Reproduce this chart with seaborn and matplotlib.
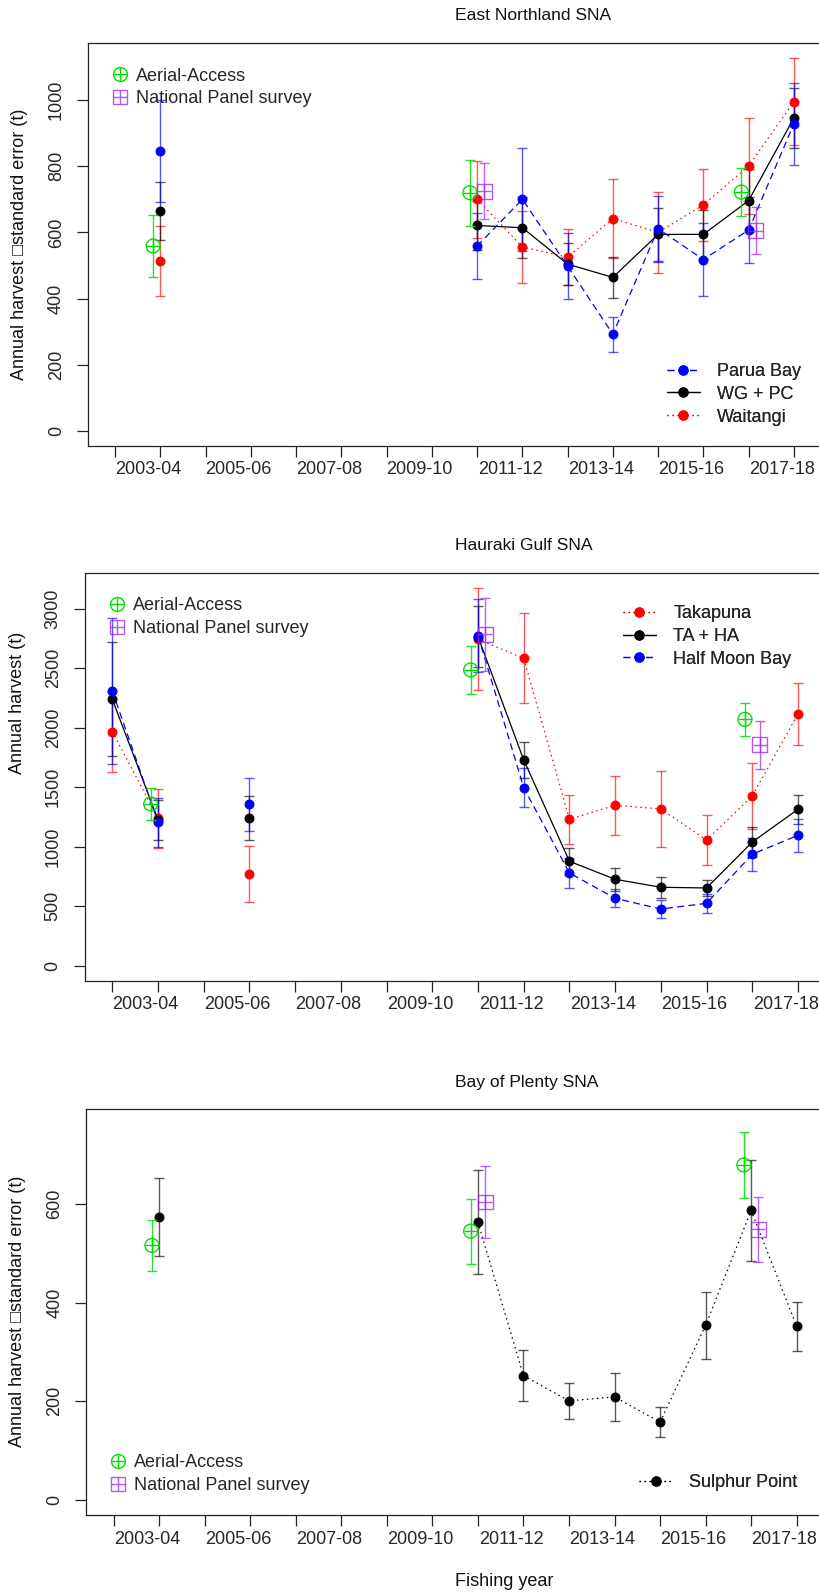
import numpy as np
import pandas as pd
import matplotlib
matplotlib.use("Agg")
import matplotlib.pyplot as plt
import seaborn as sns
from matplotlib.lines import Line2D

# ---------------- data ----------------
years = list(range(2002, 2018))
label_years = [2003, 2005, 2007, 2009, 2011, 2013, 2015, 2017]
year_labels = ["2003-04", "2005-06", "2007-08", "2009-10",
               "2011-12", "2013-14", "2015-16", "2017-18"]
nan = np.nan

# East Northland SNA (index: 2002..2017)
en_parua    = [nan, 846, nan, nan, nan, nan, nan, nan, 559, 700, 498, 292, 611, 518, 607, 928]
en_parua_se = [nan, 153, nan, nan, nan, nan, nan, nan, 100, 155, 100,  53, 100, 110, 101, 124]
en_wgpc     = [nan, 664, nan, nan, nan, nan, nan, nan, 621, 614, 504, 464, 594, 594, 696, 946]
en_wgpc_se  = [nan,  88, nan, nan, nan, nan, nan, nan,  75,  92,  63,  63,  81,  75,  96,  90]
en_wait     = [nan, 514, nan, nan, nan, nan, nan, nan, 700, 556, 525, 642, 600, 683, 801, 995]
en_wait_se  = [nan, 105, nan, nan, nan, nan, nan, nan, 117, 110,  84, 119, 122, 108, 145, 132]
en_aa_years = [2003, 2010, 2016]
en_aa       = [559, 720, 722]
en_aa_se    = [93, 100, 73]
en_nps_years = [2010, 2016]
en_nps       = [725, 605]
en_nps_se    = [86, 71]

# Hauraki Gulf SNA
hg_taka     = [1966, 1238, nan, 768, nan, nan, nan, nan, 2743, 2583, 1230, 1348, 1317, 1056, 1426, 2115]
hg_taka_se  = [340, 250, nan, 234, nan, nan, nan, nan, 430, 380, 206, 250, 322, 208, 280, 263]
hg_taha     = [2239, 1224, nan, 1238, nan, nan, nan, nan, 2765, 1729, 877, 726, 659, 653, 1039, 1314]
hg_taha_se  = [480, 172, nan, 185, nan, nan, nan, nan, 255, 152, 115, 98, 89, 67, 129, 120]
hg_hmb      = [2308, 1205, nan, 1356, nan, nan, nan, nan, 2773, 1496, 779, 566, 476, 524, 936, 1096]
hg_hmb_se   = [613, 205, nan, 224, nan, nan, nan, nan, 305, 165, 129, 77, 78, 78, 140, 138]
hg_aa_years = [2003, 2010, 2016]
hg_aa       = [1359, 2485, 2070]
hg_aa_se    = [136, 200, 140]
hg_nps_years = [2010, 2016]
hg_nps       = [2785, 1855]
hg_nps_se    = [305, 205]

# Bay of Plenty SNA
bp_sulphur    = [nan, 573, nan, nan, nan, nan, nan, nan, 563, 252, 201, 209, 158, 354, 587, 352]
bp_sulphur_se = [nan,  79, nan, nan, nan, nan, nan, nan, 105,  52,  37,  48,  30,  68, 103,  49]
bp_aa_years = [2003, 2010, 2016]
bp_aa       = [516, 545, 679]
bp_aa_se    = [51, 66, 67]
bp_nps_years = [2010, 2016]
bp_nps       = [604, 549]
bp_nps_se    = [73, 66]

# ---------------- style ----------------
sns.set_style("ticks")
plt.rcParams["font.family"] = ["Liberation Sans", "DejaVu Sans"]
plt.rcParams["font.size"] = 13
plt.rcParams["axes.linewidth"] = 0.9

W, H = 820, 1593
fig = plt.figure(figsize=(W / 100, H / 100), dpi=100)

RED, BLACK, BLUE = "#FF0000", "#000000", "#0000FF"
GREEN, PURPLE = "#00DD00", "#A020F0"
DASHED = (0, (5.5, 3.5))
DOTTED = (0, (1.2, 2.8))
OFF = 0.16
EB_ALPHA = 0.65
CAP = 3.7


def px_axes(left, right, top, bottom):
    return fig.add_axes([left / W, 1 - bottom / H, (right - left) / W, (bottom - top) / H])


def segments(vals):
    seg, cur, prev = [], 0, False
    for v in vals:
        ok = not np.isnan(v)
        if ok and not prev:
            cur += 1
        seg.append(cur if ok else -1)
        prev = ok
    return seg


def draw_series(ax, vals, se, color, ls):
    df = pd.DataFrame({"year": years, "value": vals, "se": se, "seg": segments(vals)})
    df = df[df["seg"] >= 0]
    ax.errorbar(df["year"], df["value"], yerr=df["se"], fmt="none", ecolor=color,
                elinewidth=1.0, capsize=CAP, capthick=1.0, alpha=EB_ALPHA, zorder=2)
    sns.lineplot(data=df, x="year", y="value", units="seg", estimator=None,
                 color=color, linestyle=ls, lw=0.9, marker="o", markersize=6.4,
                 markeredgecolor=color, markerfacecolor=color, ax=ax, legend=False,
                 zorder=3)


def draw_aa(ax, yrs, vals, se):
    x = np.array(yrs) - OFF
    ax.errorbar(x, vals, yerr=se, fmt="none", ecolor=GREEN, elinewidth=1.0,
                capsize=CAP, capthick=1.0, alpha=0.85, zorder=4)
    sns.scatterplot(x=x, y=vals, marker="o", s=100, facecolors="none",
                    edgecolor=GREEN, linewidth=1.0, ax=ax, zorder=5, legend=False)
    sns.scatterplot(x=x, y=vals, marker="+", s=100, color=GREEN,
                    linewidth=1.0, ax=ax, zorder=5, legend=False)


def draw_nps(ax, yrs, vals, se):
    x = np.array(yrs) + OFF
    ax.errorbar(x, vals, yerr=se, fmt="none", ecolor=PURPLE, elinewidth=1.0,
                capsize=CAP, capthick=1.0, alpha=0.7, zorder=4)
    sns.scatterplot(x=x, y=vals, marker="s", s=115, facecolors="none",
                    edgecolor=PURPLE, linewidth=1.0, alpha=0.75, ax=ax, zorder=5, legend=False)
    sns.scatterplot(x=x, y=vals, marker="+", s=115, color=PURPLE,
                    linewidth=1.0, alpha=0.75, ax=ax, zorder=5, legend=False)


def style_axes(ax, ylim, yticks):
    ax.set_xlim(2001.4, 2017.6)
    ax.set_ylim(*ylim)
    ax.set_xticks(years)
    ax.set_xticks([y - 0.27 for y in label_years], year_labels, minor=True)
    ax.tick_params(axis="x", which="major", length=7.7, width=0.9, direction="out",
                   labelbottom=False, color="#222222")
    ax.tick_params(axis="x", which="minor", length=0, pad=11, labelsize=13)
    ax.set_yticks(yticks)
    ax.set_yticklabels([str(t) for t in yticks], rotation=90, va="center")
    ax.tick_params(axis="y", length=7.7, width=0.9, direction="out", pad=9,
                   labelsize=13, color="#222222")
    for s in ax.spines.values():
        s.set_visible(True)
        s.set_color("#222222")
    ax.set_xlabel("")
    ax.set_ylabel("")


def aa_nps_legend(ax, x_px, yc_px):
    h_aa = (Line2D([], [], ls="none", marker="o", ms=10, mfc="none", mec=GREEN, mew=1.0),
            Line2D([], [], ls="none", marker="+", ms=10, mec=GREEN, mew=1.0))
    h_nps = (Line2D([], [], ls="none", marker="s", ms=10.5, mfc="none", mec=PURPLE, mew=1.0, alpha=0.75),
             Line2D([], [], ls="none", marker="+", ms=10.5, mec=PURPLE, mew=1.0, alpha=0.75))
    leg = ax.legend([h_aa, h_nps], ["Aerial-Access", "National Panel survey"],
                    loc="center left", bbox_to_anchor=(x_px / W, 1 - yc_px / H),
                    bbox_transform=fig.transFigure, frameon=False, borderpad=0,
                    borderaxespad=0, handlelength=1.0, handletextpad=0.4,
                    labelspacing=0.32, fontsize=13, numpoints=1)
    ax.add_artist(leg)


def series_legend(ax, specs, x_px, yc_px, hl, pad):
    hs = [Line2D([], [], color=c, ls=ls, lw=0.9, marker="o", ms=6.4, mfc=c, mec=c)
          for _, c, ls in specs]
    leg = ax.legend(hs, [n for n, _, _ in specs], loc="center left",
                    bbox_to_anchor=(x_px / W, 1 - yc_px / H),
                    bbox_transform=fig.transFigure, frameon=False, borderpad=0,
                    borderaxespad=0, handlelength=hl, handletextpad=pad,
                    labelspacing=0.32, fontsize=13, numpoints=1)
    ax.add_artist(leg)


# ---------------- East Northland ----------------
ax1 = px_axes(88, 821, 42.7, 445.7)
draw_series(ax1, en_wait, en_wait_se, RED, DOTTED)
draw_series(ax1, en_wgpc, en_wgpc_se, BLACK, "-")
draw_series(ax1, en_parua, en_parua_se, BLUE, DASHED)
draw_aa(ax1, en_aa_years, en_aa, en_aa_se)
draw_nps(ax1, en_nps_years, en_nps, en_nps_se)
style_axes(ax1, (-45, 1173.6), [0, 200, 400, 600, 800, 1000])
aa_nps_legend(ax1, 111, 87.5)
series_legend(ax1, [("Parua Bay", BLUE, DASHED), ("WG + PC", BLACK, "-"),
                    ("Waitangi", RED, DOTTED)], 666.7, 394.3, 1.85, 0.93)

# ---------------- Hauraki Gulf ----------------
ax2 = px_axes(84.9, 825.4, 572.7, 981)
draw_series(ax2, hg_taka, hg_taka_se, RED, DOTTED)
draw_series(ax2, hg_taha, hg_taha_se, BLACK, "-")
draw_series(ax2, hg_hmb, hg_hmb_se, BLUE, DASHED)
draw_aa(ax2, hg_aa_years, hg_aa, hg_aa_se)
draw_nps(ax2, hg_nps_years, hg_nps, hg_nps_se)
style_axes(ax2, (-128.6, 3302), [0, 500, 1000, 1500, 2000, 2500, 3000])
aa_nps_legend(ax2, 107.7, 617)
series_legend(ax2, [("Takapuna", RED, DOTTED), ("TA + HA", BLACK, "-"),
                    ("Half Moon Bay", BLUE, DASHED)], 622.7, 636.5, 1.85, 0.96)

# ---------------- Bay of Plenty ----------------
ax3 = px_axes(86.4, 824, 1109, 1515.3)
draw_series(ax3, bp_sulphur, bp_sulphur_se, BLACK, DOTTED)
draw_aa(ax3, bp_aa_years, bp_aa, bp_aa_se)
draw_nps(ax3, bp_nps_years, bp_nps, bp_nps_se)
style_axes(ax3, (-31, 792.6), [0, 200, 400, 600])
aa_nps_legend(ax3, 108.7, 1474)
series_legend(ax3, [("Sulphur Point", BLACK, DOTTED)], 639.3, 1482.5, 1.89, 0.89)

# ---------------- titles / labels ----------------
TXT = "#111111"
fig.text(455 / W, 1 - 16 / H, "East Northland SNA", ha="left", va="center", fontsize=12.6, color=TXT)
fig.text(455 / W, 1 - 545.7 / H, "Hauraki Gulf SNA", ha="left", va="center", fontsize=12.6, color=TXT)
fig.text(455 / W, 1 - 1082 / H, "Bay of Plenty SNA", ha="left", va="center", fontsize=12.6, color=TXT)
fig.text(455 / W, 1 - 1581.7 / H, "Fishing year", ha="left", va="center", fontsize=13, color=TXT)

fig.text(20 / W, 1 - 244 / H, "Annual harvest \u25a1standard error (t)", rotation=90,
         ha="center", va="center", fontsize=13, color=TXT)
fig.text(18 / W, 1 - 702.5 / H, "Annual harvest (t)", rotation=90,
         ha="center", va="center", fontsize=13, color=TXT)
fig.text(18 / W, 1 - 1311.5 / H, "Annual harvest \u25a1standard error (t)", rotation=90,
         ha="center", va="center", fontsize=13, color=TXT)

fig.savefig("out.png", dpi=100, facecolor="white")
